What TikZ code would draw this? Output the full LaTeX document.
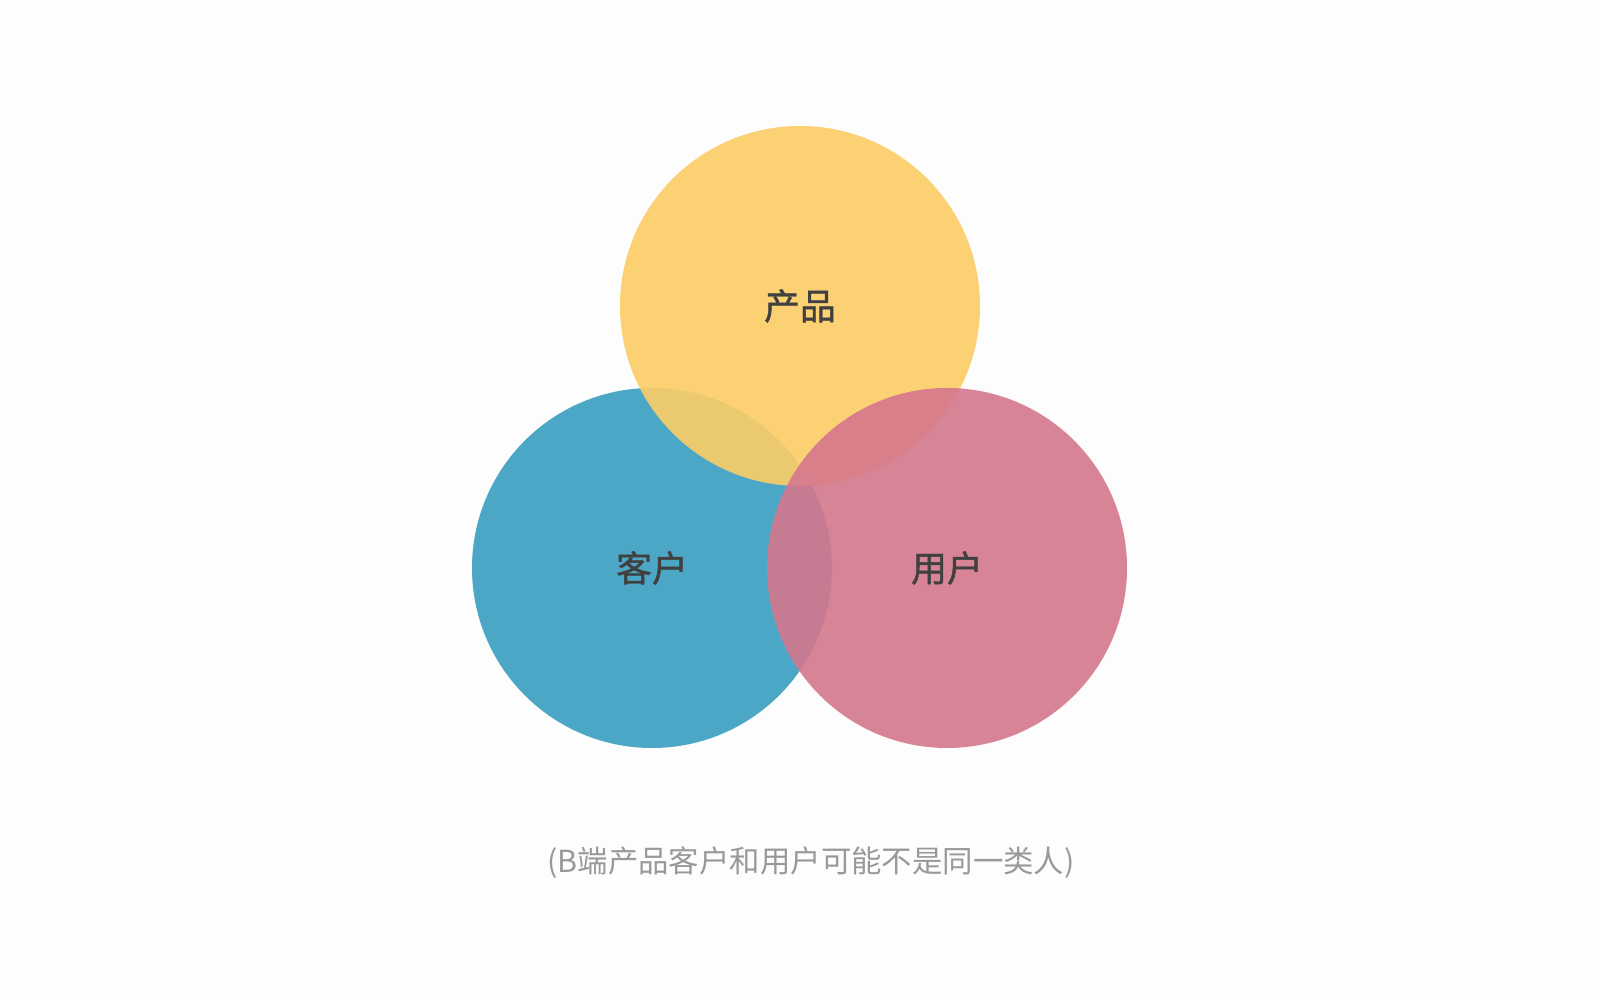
\documentclass[tikz,border=0pt]{standalone}
\usepackage{fontspec}
\usepackage{xcolor}
\usepackage{tikz}
\newfontfamily\cjk{Noto Sans CJK SC}
\newfontfamily\cjkmed[FakeBold=1.2]{Noto Sans CJK SC}
\definecolor{prodyellow}{RGB}{252,205,102}
\definecolor{custblue}{RGB}{57,158,194}
\definecolor{userpink}{RGB}{213,119,141}
\definecolor{labelgray}{RGB}{64,64,64}
\definecolor{notegray}{RGB}{153,153,153}
\definecolor{bggray}{RGB}{253,253,253}
\tikzset{VDnode/.style={shape=circle,minimum size=3.6cm,inner sep=0pt,fill opacity=.9,text opacity=1,
  text=labelgray,font=\cjkmed\fontsize{10.2}{12}\selectfont}}

\begin{document}
\begin{tikzpicture}
	\fill[bggray] (0,0) rectangle (16,10);
	\useasboundingbox (0,0) rectangle (16,10);
	\node[VDnode,fill=custblue] (K) at (6.52,4.32) {客户};
	\node[VDnode,fill=prodyellow] (P) at (8.00,6.94) {产品};
	\node[VDnode,fill=userpink] (U) at (9.47,4.32) {用户};
	%
	\node[text=notegray,font=\cjk\fontsize{8.65}{10}\selectfont] (N) at (8.11,1.37) {(B端产品客户和用户可能不是同一类人)};
\end{tikzpicture}
\end{document}
